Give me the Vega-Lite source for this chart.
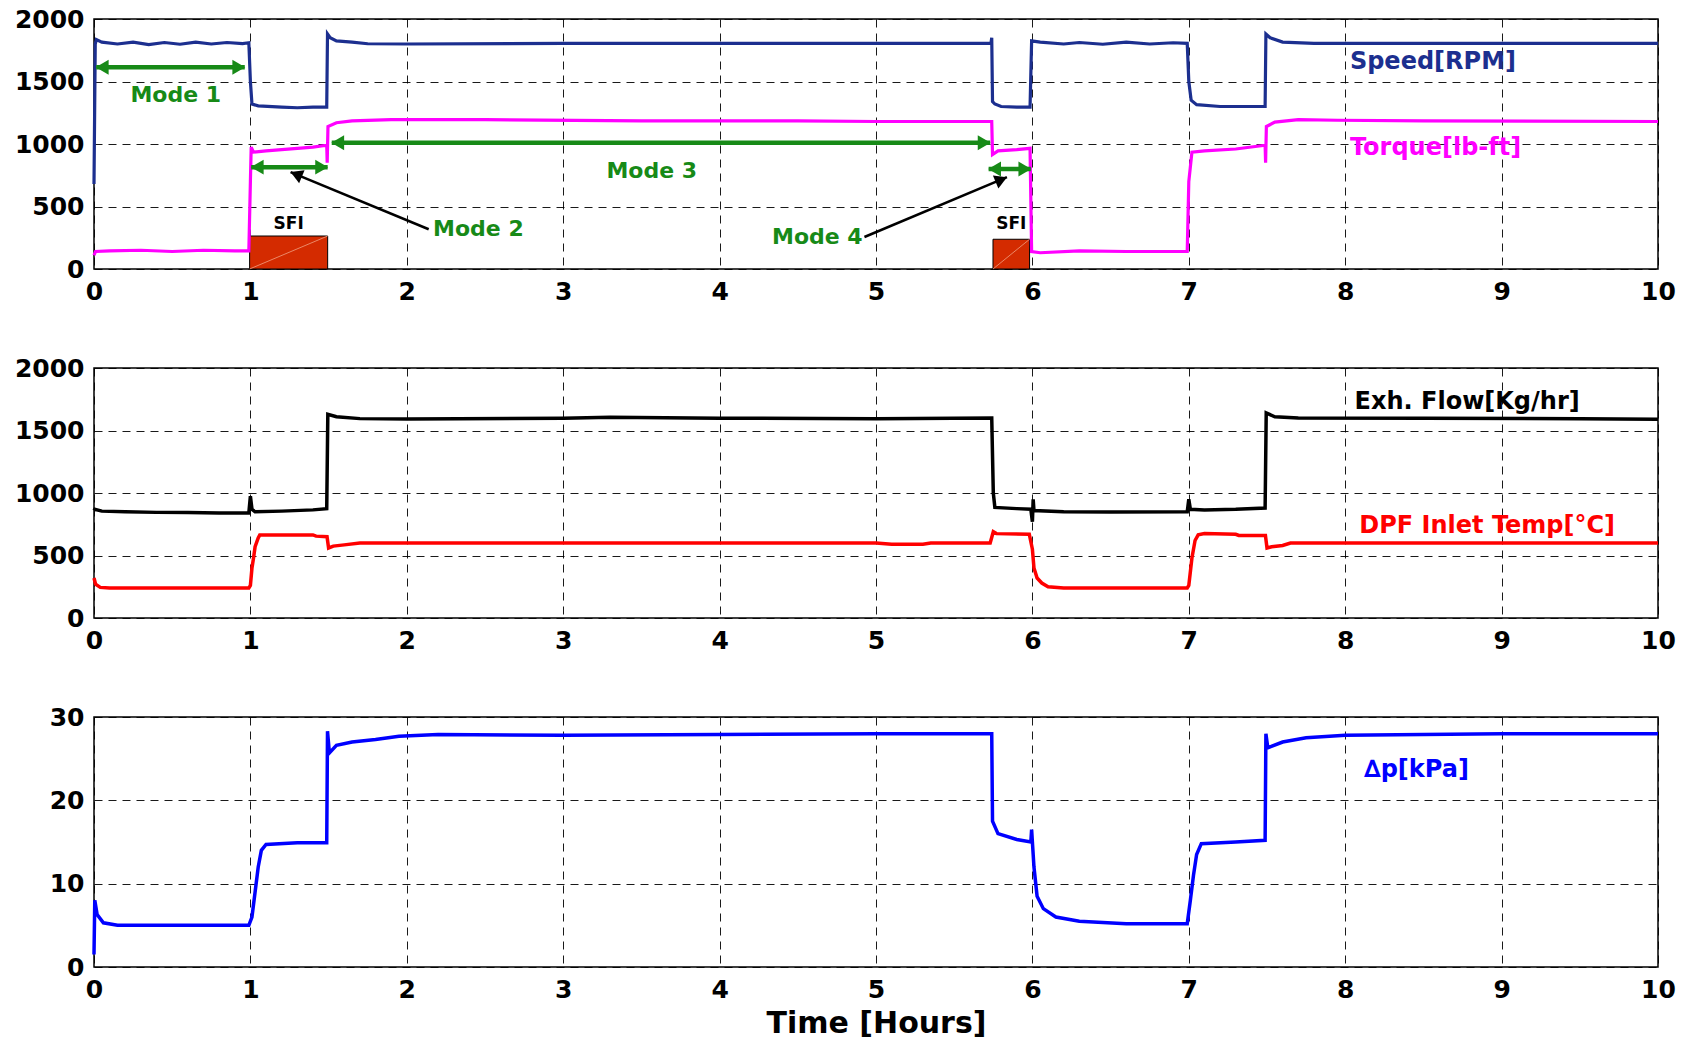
{
 "$schema": "https://vega.github.io/schema/vega-lite/v6.json",
 "background": "white",
 "padding": {"left": 13, "top": 6, "right": 10, "bottom": 4},
 "spacing": 99,
 "bounds": "flush",
 "resolve": {"scale": {"color": "independent"}},
 "config": {
  "font": "DejaVu Sans",
  "view": {"stroke": "#000", "strokeWidth": 1.5},
  "axis": {"labelFont": "DejaVu Sans", "labelFontSize": 25, "labelFontWeight": "bold", "labelColor": "#000", "ticks": false, "domain": false, "grid": true, "gridDash": [8, 6], "gridColor": "#000", "gridWidth": 0.9, "labelPadding": 10, "labelFlush": false, "labelOverlap": false, "format": "d", "titleFont": "DejaVu Sans", "titleFontSize": 30, "titleFontWeight": "bold", "titleColor": "#000", "titlePadding": 6}
 },
 "datasets": {
  "p1": [
   {"s":"speed","t":0,"v":680},{"s":"speed","t":0.008,"v":1800},{"s":"speed","t":0.015,"v":1835},{"s":"speed","t":0.05,"v":1815},{"s":"speed","t":0.15,"v":1800},{"s":"speed","t":0.25,"v":1815},{"s":"speed","t":0.35,"v":1795},{"s":"speed","t":0.45,"v":1812},{"s":"speed","t":0.55,"v":1798},{"s":"speed","t":0.65,"v":1815},{"s":"speed","t":0.75,"v":1800},{"s":"speed","t":0.85,"v":1812},{"s":"speed","t":0.95,"v":1803},{"s":"speed","t":0.99,"v":1810},{"s":"speed","t":1.0,"v":1500},{"s":"speed","t":1.01,"v":1320},{"s":"speed","t":1.05,"v":1305},{"s":"speed","t":1.2,"v":1295},{"s":"speed","t":1.3,"v":1290},{"s":"speed","t":1.4,"v":1295},{"s":"speed","t":1.488,"v":1295},{"s":"speed","t":1.493,"v":1880},{"s":"speed","t":1.51,"v":1850},{"s":"speed","t":1.55,"v":1825},{"s":"speed","t":1.65,"v":1815},{"s":"speed","t":1.75,"v":1802},{"s":"speed","t":2.0,"v":1800},{"s":"speed","t":3.0,"v":1805},{"s":"speed","t":4.0,"v":1805},{"s":"speed","t":5.0,"v":1805},{"s":"speed","t":5.735,"v":1805},{"s":"speed","t":5.74,"v":1850},{"s":"speed","t":5.745,"v":1340},{"s":"speed","t":5.76,"v":1320},{"s":"speed","t":5.8,"v":1300},{"s":"speed","t":5.9,"v":1295},{"s":"speed","t":5.985,"v":1295},{"s":"speed","t":5.995,"v":1825},{"s":"speed","t":6.05,"v":1815},{"s":"speed","t":6.2,"v":1800},{"s":"speed","t":6.3,"v":1812},{"s":"speed","t":6.45,"v":1798},{"s":"speed","t":6.6,"v":1815},{"s":"speed","t":6.75,"v":1800},{"s":"speed","t":6.9,"v":1810},{"s":"speed","t":6.99,"v":1805},{"s":"speed","t":7.0,"v":1500},{"s":"speed","t":7.015,"v":1350},{"s":"speed","t":7.05,"v":1315},{"s":"speed","t":7.2,"v":1300},{"s":"speed","t":7.35,"v":1300},{"s":"speed","t":7.488,"v":1300},{"s":"speed","t":7.493,"v":1880},{"s":"speed","t":7.52,"v":1850},{"s":"speed","t":7.6,"v":1815},{"s":"speed","t":7.8,"v":1805},{"s":"speed","t":10.0,"v":1805},
   {"s":"torque","t":0,"v":110},{"s":"torque","t":0.01,"v":140},{"s":"torque","t":0.1,"v":145},{"s":"torque","t":0.3,"v":150},{"s":"torque","t":0.5,"v":140},{"s":"torque","t":0.7,"v":150},{"s":"torque","t":0.9,"v":145},{"s":"torque","t":0.99,"v":145},{"s":"torque","t":1.0,"v":700},{"s":"torque","t":1.005,"v":975},{"s":"torque","t":1.02,"v":935},{"s":"torque","t":1.1,"v":945},{"s":"torque","t":1.2,"v":955},{"s":"torque","t":1.3,"v":965},{"s":"torque","t":1.4,"v":975},{"s":"torque","t":1.488,"v":990},{"s":"torque","t":1.491,"v":850},{"s":"torque","t":1.496,"v":1140},{"s":"torque","t":1.55,"v":1170},{"s":"torque","t":1.65,"v":1185},{"s":"torque","t":1.9,"v":1195},{"s":"torque","t":2.5,"v":1195},{"s":"torque","t":3.5,"v":1185},{"s":"torque","t":4.5,"v":1185},{"s":"torque","t":5.0,"v":1180},{"s":"torque","t":5.5,"v":1180},{"s":"torque","t":5.74,"v":1180},{"s":"torque","t":5.745,"v":915},{"s":"torque","t":5.78,"v":945},{"s":"torque","t":5.9,"v":955},{"s":"torque","t":5.985,"v":965},{"s":"torque","t":5.995,"v":140},{"s":"torque","t":6.05,"v":130},{"s":"torque","t":6.3,"v":145},{"s":"torque","t":6.6,"v":140},{"s":"torque","t":6.99,"v":140},{"s":"torque","t":7.0,"v":700},{"s":"torque","t":7.02,"v":935},{"s":"torque","t":7.1,"v":945},{"s":"torque","t":7.3,"v":960},{"s":"torque","t":7.488,"v":990},{"s":"torque","t":7.491,"v":850},{"s":"torque","t":7.496,"v":1140},{"s":"torque","t":7.55,"v":1175},{"s":"torque","t":7.7,"v":1195},{"s":"torque","t":7.95,"v":1190},{"s":"torque","t":8.5,"v":1185},{"s":"torque","t":10.0,"v":1180}
  ],
  "p2": [
   {"s":"flow","t":0,"v":860},{"s":"flow","t":0.005,"v":870},{"s":"flow","t":0.05,"v":855},{"s":"flow","t":0.2,"v":850},{"s":"flow","t":0.4,"v":845},{"s":"flow","t":0.6,"v":845},{"s":"flow","t":0.8,"v":840},{"s":"flow","t":0.99,"v":840},{"s":"flow","t":1.0,"v":975},{"s":"flow","t":1.01,"v":870},{"s":"flow","t":1.03,"v":850},{"s":"flow","t":1.2,"v":855},{"s":"flow","t":1.4,"v":865},{"s":"flow","t":1.488,"v":875},{"s":"flow","t":1.495,"v":1630},{"s":"flow","t":1.55,"v":1610},{"s":"flow","t":1.7,"v":1595},{"s":"flow","t":2.0,"v":1592},{"s":"flow","t":3.0,"v":1598},{"s":"flow","t":3.3,"v":1605},{"s":"flow","t":4.0,"v":1598},{"s":"flow","t":5.0,"v":1595},{"s":"flow","t":5.74,"v":1600},{"s":"flow","t":5.75,"v":1000},{"s":"flow","t":5.76,"v":885},{"s":"flow","t":5.9,"v":875},{"s":"flow","t":5.99,"v":870},{"s":"flow","t":6.0,"v":770},{"s":"flow","t":6.005,"v":950},{"s":"flow","t":6.01,"v":860},{"s":"flow","t":6.2,"v":850},{"s":"flow","t":6.5,"v":848},{"s":"flow","t":6.99,"v":850},{"s":"flow","t":7.0,"v":950},{"s":"flow","t":7.01,"v":870},{"s":"flow","t":7.1,"v":865},{"s":"flow","t":7.3,"v":870},{"s":"flow","t":7.488,"v":880},{"s":"flow","t":7.495,"v":1640},{"s":"flow","t":7.55,"v":1610},{"s":"flow","t":7.7,"v":1600},{"s":"flow","t":8.5,"v":1598},{"s":"flow","t":9.5,"v":1595},{"s":"flow","t":10.0,"v":1590},
   {"s":"temp","t":0,"v":320},{"s":"temp","t":0.01,"v":270},{"s":"temp","t":0.04,"v":245},{"s":"temp","t":0.1,"v":240},{"s":"temp","t":0.99,"v":240},{"s":"temp","t":1.0,"v":260},{"s":"temp","t":1.01,"v":400},{"s":"temp","t":1.02,"v":480},{"s":"temp","t":1.03,"v":570},{"s":"temp","t":1.05,"v":640},{"s":"temp","t":1.06,"v":665},{"s":"temp","t":1.4,"v":665},{"s":"temp","t":1.42,"v":655},{"s":"temp","t":1.49,"v":650},{"s":"temp","t":1.5,"v":560},{"s":"temp","t":1.53,"v":575},{"s":"temp","t":1.6,"v":585},{"s":"temp","t":1.7,"v":600},{"s":"temp","t":5.0,"v":600},{"s":"temp","t":5.1,"v":590},{"s":"temp","t":5.3,"v":590},{"s":"temp","t":5.35,"v":600},{"s":"temp","t":5.73,"v":600},{"s":"temp","t":5.75,"v":690},{"s":"temp","t":5.77,"v":675},{"s":"temp","t":5.98,"v":670},{"s":"temp","t":6.0,"v":550},{"s":"temp","t":6.01,"v":400},{"s":"temp","t":6.03,"v":320},{"s":"temp","t":6.06,"v":280},{"s":"temp","t":6.1,"v":250},{"s":"temp","t":6.2,"v":240},{"s":"temp","t":6.99,"v":240},{"s":"temp","t":7.0,"v":260},{"s":"temp","t":7.02,"v":480},{"s":"temp","t":7.04,"v":620},{"s":"temp","t":7.06,"v":665},{"s":"temp","t":7.1,"v":675},{"s":"temp","t":7.3,"v":670},{"s":"temp","t":7.32,"v":660},{"s":"temp","t":7.49,"v":660},{"s":"temp","t":7.5,"v":560},{"s":"temp","t":7.53,"v":570},{"s":"temp","t":7.6,"v":580},{"s":"temp","t":7.65,"v":600},{"s":"temp","t":10.0,"v":600}
  ],
  "p3": [
   {"s":"dp","t":0,"v":1.5},{"s":"dp","t":0.005,"v":8.0},{"s":"dp","t":0.02,"v":6.3},{"s":"dp","t":0.06,"v":5.3},{"s":"dp","t":0.15,"v":5.0},{"s":"dp","t":0.4,"v":5.0},{"s":"dp","t":0.7,"v":5.0},{"s":"dp","t":0.99,"v":5.0},{"s":"dp","t":1.01,"v":6.0},{"s":"dp","t":1.03,"v":9.0},{"s":"dp","t":1.05,"v":12.0},{"s":"dp","t":1.07,"v":14.0},{"s":"dp","t":1.1,"v":14.7},{"s":"dp","t":1.3,"v":14.9},{"s":"dp","t":1.488,"v":14.9},{"s":"dp","t":1.493,"v":28.3},{"s":"dp","t":1.505,"v":25.7},{"s":"dp","t":1.55,"v":26.6},{"s":"dp","t":1.65,"v":27.0},{"s":"dp","t":1.8,"v":27.3},{"s":"dp","t":1.95,"v":27.7},{"s":"dp","t":2.2,"v":27.9},{"s":"dp","t":3.0,"v":27.8},{"s":"dp","t":4.0,"v":27.9},{"s":"dp","t":5.0,"v":28.0},{"s":"dp","t":5.74,"v":28.0},{"s":"dp","t":5.745,"v":17.5},{"s":"dp","t":5.78,"v":16.0},{"s":"dp","t":5.9,"v":15.3},{"s":"dp","t":5.99,"v":15.0},{"s":"dp","t":5.995,"v":16.5},{"s":"dp","t":6.01,"v":12.0},{"s":"dp","t":6.03,"v":8.5},{"s":"dp","t":6.07,"v":7.0},{"s":"dp","t":6.15,"v":6.0},{"s":"dp","t":6.3,"v":5.5},{"s":"dp","t":6.6,"v":5.2},{"s":"dp","t":6.99,"v":5.2},{"s":"dp","t":7.01,"v":8.0},{"s":"dp","t":7.03,"v":11.0},{"s":"dp","t":7.05,"v":13.5},{"s":"dp","t":7.08,"v":14.8},{"s":"dp","t":7.3,"v":15.0},{"s":"dp","t":7.488,"v":15.2},{"s":"dp","t":7.493,"v":28.0},{"s":"dp","t":7.505,"v":26.3},{"s":"dp","t":7.6,"v":27.0},{"s":"dp","t":7.75,"v":27.5},{"s":"dp","t":8.0,"v":27.8},{"s":"dp","t":9.0,"v":28.0},{"s":"dp","t":10.0,"v":28.0}
  ],
  "sfi": [{"t":0.995,"t2":1.494,"v":0,"v2":264,"txt":"SFI","tc":1.245},{"t":5.748,"t2":5.982,"v":0,"v2":238,"txt":"SFI","tc":5.865}],
  "greenArrows": [{"t":0.014,"t2":0.964,"v":1614},{"t":1.005,"t2":1.494,"v":815},{"t":1.52,"t2":5.73,"v":1010},{"t":5.72,"t2":5.99,"v":800}],
  "blackArrows": [{"m":"2","t":2.14,"v":318,"t2":1.257,"v2":775},{"m":"4","t":4.926,"v":256,"t2":5.837,"v2":735}],
  "modeText": [{"t":0.523,"v":1391,"txt":"Mode 1"},{"t":2.458,"v":318,"txt":"Mode 2"},{"t":3.566,"v":781,"txt":"Mode 3"},{"t":4.625,"v":257,"txt":"Mode 4"}],
  "lab1": [{"t":8.03,"v":1655,"txt":"Speed[RPM]","s":"speed"},{"t":8.03,"v":972,"txt":"Torque[lb-ft]","s":"torque"}],
  "lab2": [{"t":8.06,"v":1726,"txt":"Exh. Flow[Kg/hr]","s":"flow"},{"t":8.09,"v":738,"txt":"DPF Inlet Temp[°C]","s":"temp"}],
  "lab3": [{"t":8.12,"v":23.6,"txt":"∆p[kPa]","s":"dp"}]
 },
 "vconcat": [
  {
   "width": 1564, "height": 250,
   "encoding": {
    "x": {"field": "t", "type": "quantitative", "scale": {"domain": [0, 10], "nice": false}, "axis": {"title": null, "values": [0,1,2,3,4,5,6,7,8,9,10]}},
    "y": {"field": "v", "type": "quantitative", "scale": {"domain": [0, 2000], "nice": false}, "axis": {"title": null, "values": [0,500,1000,1500,2000]}}
   },
   "layer": [
    {"data": {"name": "sfi"}, "mark": {"type": "rect", "color": "#d42b00", "stroke": "#000", "strokeWidth": 1}, "encoding": {"x2": {"field": "t2"}, "y2": {"field": "v2"}}},
    {"data": {"name": "sfi"}, "mark": {"type": "rule", "color": "#f0a080", "strokeWidth": 0.8}, "encoding": {"x2": {"field": "t2"}, "y2": {"field": "v2"}}},
    {"data": {"name": "sfi"}, "mark": {"type": "text", "fontSize": 17, "fontWeight": "bold", "color": "#000", "align": "center", "baseline": "middle"}, "encoding": {"x": {"field": "tc", "type": "quantitative"}, "y": {"datum": 360}, "text": {"field": "txt"}}},
    {"data": {"name": "p1"}, "mark": {"type": "line", "strokeWidth": 3.2}, "encoding": {"color": {"field": "s", "type": "nominal", "scale": {"domain": ["speed", "torque"], "range": ["#1c2f8f", "#ff00ff"]}, "legend": null}}},
    {"data": {"name": "greenArrows"}, "mark": {"type": "rule", "color": "#178a17", "strokeWidth": 4.5}, "encoding": {"x2": {"field": "t2"}}},
    {"data": {"name": "greenArrows"}, "mark": {"type": "point", "shape": "triangle-left", "filled": true, "opacity": 1, "color": "#178a17", "size": 220, "xOffset": 6}, "encoding": {}},
    {"data": {"name": "greenArrows"}, "mark": {"type": "point", "shape": "triangle-right", "filled": true, "opacity": 1, "color": "#178a17", "size": 220, "xOffset": -6}, "encoding": {"x": {"field": "t2", "type": "quantitative"}}},
    {"data": {"name": "blackArrows"}, "mark": {"type": "rule", "color": "#000", "strokeWidth": 2.5}, "encoding": {"x2": {"field": "t2"}, "y2": {"field": "v2"}}},
    {"data": {"name": "blackArrows"}, "transform": [{"filter": "datum.m == '2'"}], "mark": {"type": "point", "shape": "triangle-up", "filled": true, "opacity": 1, "color": "#000", "size": 200, "angle": 292.5, "xOffset": 5.6, "yOffset": 2.3}, "encoding": {"x": {"field": "t2", "type": "quantitative"}, "y": {"field": "v2", "type": "quantitative"}}},
    {"data": {"name": "blackArrows"}, "transform": [{"filter": "datum.m == '4'"}], "mark": {"type": "point", "shape": "triangle-up", "filled": true, "opacity": 1, "color": "#000", "size": 200, "angle": 67.2, "xOffset": -5.6, "yOffset": 2.4}, "encoding": {"x": {"field": "t2", "type": "quantitative"}, "y": {"field": "v2", "type": "quantitative"}}},
    {"data": {"name": "modeText"}, "mark": {"type": "text", "fontSize": 22, "fontWeight": "bold", "color": "#178a17", "align": "center", "baseline": "middle"}, "encoding": {"text": {"field": "txt"}}},
    {"data": {"name": "lab1"}, "mark": {"type": "text", "fontSize": 24, "fontWeight": "bold", "align": "left", "baseline": "middle"}, "encoding": {"text": {"field": "txt"}, "color": {"field": "s", "type": "nominal", "scale": {"domain": ["speed", "torque"], "range": ["#1c2f8f", "#ff00ff"]}, "legend": null}}}
   ]
  },
  {
   "width": 1564, "height": 250,
   "encoding": {
    "x": {"field": "t", "type": "quantitative", "scale": {"domain": [0, 10], "nice": false}, "axis": {"title": null, "values": [0,1,2,3,4,5,6,7,8,9,10]}},
    "y": {"field": "v", "type": "quantitative", "scale": {"domain": [0, 2000], "nice": false}, "axis": {"title": null, "values": [0,500,1000,1500,2000]}}
   },
   "layer": [
    {"data": {"name": "p2"}, "mark": {"type": "line", "strokeWidth": 3.5}, "encoding": {"color": {"field": "s", "type": "nominal", "scale": {"domain": ["flow", "temp"], "range": ["#000000", "#ff0000"]}, "legend": null}}},
    {"data": {"name": "lab2"}, "mark": {"type": "text", "fontSize": 24, "fontWeight": "bold", "align": "left", "baseline": "middle"}, "encoding": {"text": {"field": "txt"}, "color": {"field": "s", "type": "nominal", "scale": {"domain": ["flow", "temp"], "range": ["#000000", "#ff0000"]}, "legend": null}}}
   ]
  },
  {
   "width": 1564, "height": 250,
   "encoding": {
    "x": {"field": "t", "type": "quantitative", "scale": {"domain": [0, 10], "nice": false}, "axis": {"title": "Time [Hours]", "values": [0,1,2,3,4,5,6,7,8,9,10]}},
    "y": {"field": "v", "type": "quantitative", "scale": {"domain": [0, 30], "nice": false}, "axis": {"title": null, "values": [0,10,20,30]}}
   },
   "layer": [
    {"data": {"name": "p3"}, "mark": {"type": "line", "strokeWidth": 3.5, "color": "#0000ff"}, "encoding": {}},
    {"data": {"name": "lab3"}, "mark": {"type": "text", "fontSize": 24, "fontWeight": "bold", "align": "left", "baseline": "middle", "color": "#0000ff"}, "encoding": {"text": {"field": "txt"}}}
   ]
  }
 ]
}
